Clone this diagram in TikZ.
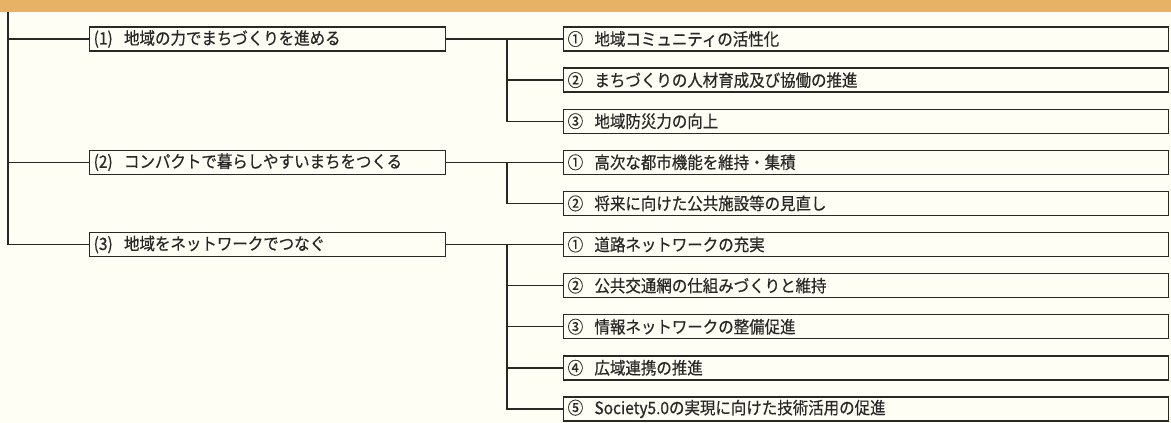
\documentclass[tikz,border=0pt]{standalone}
\usepackage{fontspec}
\newfontfamily\jp[FakeStretch=0.91,FakeBold=0.5]{Noto Sans CJK JP}
\definecolor{paper}{RGB}{255,254,244}
\definecolor{band}{RGB}{232,178,102}
\definecolor{ink}{RGB}{40,40,40}
\begin{document}
\begin{tikzpicture}[x=1pt,y=-1pt,
  conn/.style={draw=ink,line width=1.4pt},
  lvone/.style={draw=ink,line width=1.4pt,fill=paper,anchor=west,minimum height=24pt,
     text width=348pt,inner xsep=4pt,inner ysep=0pt,align=left,font=\jp\fontsize{17}{18}\selectfont,text=ink},
  lvtwo/.style={draw=ink,line width=1.4pt,fill=paper,anchor=west,minimum height=24pt,
     text width=597pt,inner xsep=4pt,inner ysep=0pt,align=left,font=\jp\fontsize{17}{18}\selectfont,text=ink}]
\useasboundingbox (0,0) rectangle (1171,423);
\fill[paper] (0,0) rectangle (1171,423);
\fill[band] (0,0) rectangle (1171,12);
% level 1
\node[lvone] (b1) at (89,39) {(1)\ \ 地域の力でまちづくりを進める};
\node[lvone] (b2) at (89,162.3) {(2)\ \ コンパクトで暮らしやすいまちをつくる};
\node[lvone] (b3) at (89,244.5) {(3)\ \ 地域をネットワークでつなぐ};
% level 2
\node[lvtwo] (c1) at (563,39) {①\ \ 地域コミュニティの活性化};
\node[lvtwo] (c2) at (563,80.1) {②\ \ まちづくりの人材育成及び協働の推進};
\node[lvtwo] (c3) at (563,121.2) {③\ \ 地域防災力の向上};
\node[lvtwo] (d1) at (563,162.3) {①\ \ 高次な都市機能を維持・集積};
\node[lvtwo] (d2) at (563,203.4) {②\ \ 将来に向けた公共施設等の見直し};
\node[lvtwo] (e1) at (563,244.5) {①\ \ 道路ネットワークの充実};
\node[lvtwo] (e2) at (563,285.6) {②\ \ 公共交通網の仕組みづくりと維持};
\node[lvtwo] (e3) at (563,326.7) {③\ \ 情報ネットワークの整備促進};
\node[lvtwo] (e4) at (563,367.8) {④\ \ 広域連携の推進};
\node[lvtwo] (e5) at (563,408.9) {⑤\ \ Society5.0の実現に向けた技術活用の促進};
% trunk
\coordinate (top) at (8,12);
\draw[conn] (top) |- (b3.west);
\draw[conn] (top |- b1.west) -- (b1.west);
\draw[conn] (top |- b2.west) -- (b2.west);
% group 1
\coordinate (j1) at (507,39);
\draw[conn] (b1.east) -- (c1.west);
\draw[conn] (j1) |- (c2.west);
\draw[conn] (j1) |- (c3.west);
% group 2
\coordinate (j2) at (507,162.3);
\draw[conn] (b2.east) -- (d1.west);
\draw[conn] (j2) |- (d2.west);
% group 3
\coordinate (j3) at (507,244.5);
\draw[conn] (b3.east) -- (e1.west);
\draw[conn] (j3) |- (e2.west);
\draw[conn] (j3) |- (e3.west);
\draw[conn] (j3) |- (e4.west);
\draw[conn] (j3) |- (e5.west);
\end{tikzpicture}
\end{document}
